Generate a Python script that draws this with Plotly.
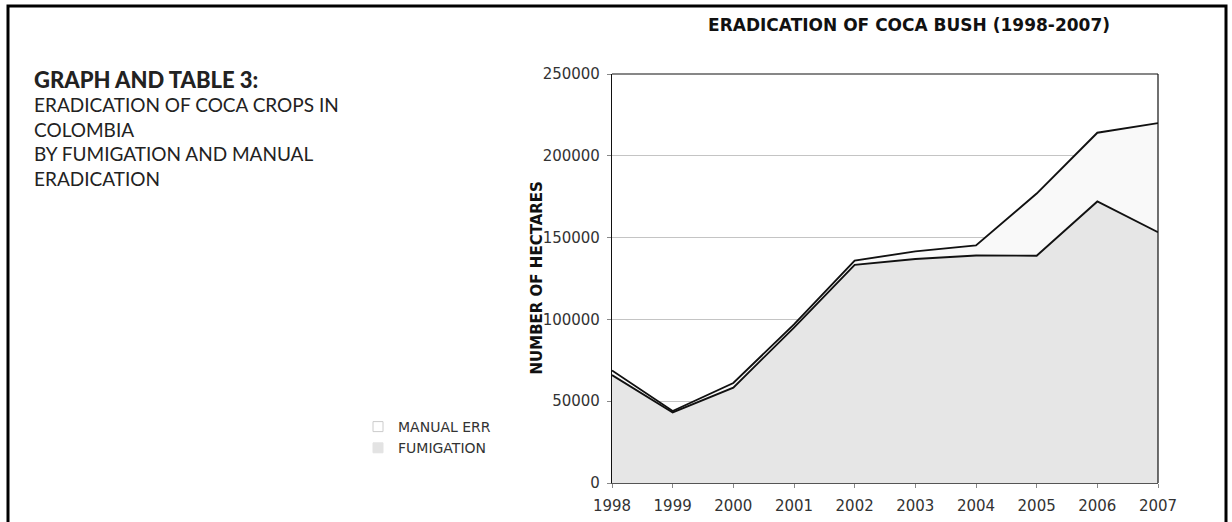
import plotly.graph_objects as go

years = [1998, 1999, 2000, 2001, 2002, 2003, 2004, 2005, 2006, 2007]
fumigation = [66000, 43100, 58300, 95000, 133300, 136900, 139100, 138900, 172100, 153300]
manual_err = [2800, 900, 2800, 2000, 2600, 4700, 6100, 38000, 42000, 66700]

y_ticks = [0, 50000, 100000, 150000, 200000, 250000]

W, H = 1232, 522
L, R, T, B = 612, 1158, 74, 483
pw, ph = R - L, B - T

def px(x):
    return (x - L) / pw

def py(y):
    return (B - y) / ph

fig = go.Figure()
fig.add_trace(go.Scatter(
    x=years, y=fumigation, name="FUMIGATION", stackgroup="one",
    mode="lines", line=dict(color="#111111", width=1.9),
    fillcolor="#e6e6e6", showlegend=False, hoverinfo="x+y"))
fig.add_trace(go.Scatter(
    x=years, y=manual_err, name="MANUAL ERR", stackgroup="one",
    mode="lines", line=dict(color="#111111", width=1.9),
    fillcolor="#f9f9f9", showlegend=False, hoverinfo="x+y"))

# legend entries
fig.add_trace(go.Scatter(
    x=[None], y=[None], mode="markers", name="MANUAL ERR",
    marker=dict(symbol="square", size=10, color="#ffffff",
                line=dict(color="#cccccc", width=1))))
fig.add_trace(go.Scatter(
    x=[None], y=[None], mode="markers", name="FUMIGATION",
    marker=dict(symbol="square", size=10, color="#e3e3e3",
                line=dict(color="#e3e3e3", width=1))))

fig.update_layout(
    width=W, height=H,
    margin=dict(l=L, r=W - R, t=T, b=H - B, autoexpand=False),
    paper_bgcolor="white", plot_bgcolor="white",
    font=dict(family="DejaVu Sans", size=15, color="#333333"),
    title=dict(text="<b>ERADICATION OF COCA BUSH (1998-2007)</b>",
               xref="container", yref="container",
               x=909 / W, y=1 - 25 / H,
               xanchor="center", yanchor="middle",
               font=dict(family="DejaVu Sans", size=17, color="#111111")),
    legend=dict(xref="container", yref="container",
                x=358 / W, y=1 - 411 / H,
                xanchor="left", yanchor="top", traceorder="normal",
                font=dict(family="DejaVu Sans", size=14, color="#333333"),
                bgcolor="rgba(0,0,0,0)", itemwidth=30, tracegroupgap=0),
    showlegend=True,
)

fig.update_xaxes(
    range=[1998, 2007], tickmode="array", tickvals=years,
    ticktext=[str(y) for y in years], automargin=False,
    showgrid=False, zeroline=False,
    showline=True, linecolor="#555555", linewidth=1, mirror=False,
    ticks="outside", ticklen=4, tickcolor="#888888", ticklabelstandoff=5,
    tickfont=dict(family="DejaVu Sans", size=15, color="#333333"),
)
fig.update_yaxes(
    range=[0, 250000], tickmode="array", tickvals=y_ticks,
    ticktext=[str(v) for v in y_ticks], automargin=False,
    showgrid=True, gridcolor="#c4c4c4", gridwidth=1, zeroline=False,
    showline=True, linecolor="#111111", linewidth=1.2, mirror=False,
    ticks="outside", ticklen=4, tickcolor="#888888", ticklabelstandoff=4,
    tickfont=dict(family="DejaVu Sans", size=15, color="#333333"),
)

# plot frame (top and right black)
fig.add_shape(type="line", xref="paper", yref="paper", x0=0, x1=1, y0=1, y1=1,
              line=dict(color="#111111", width=1.2), layer="above")
fig.add_shape(type="line", xref="paper", yref="paper", x0=1, x1=1, y0=0, y1=1,
              line=dict(color="#111111", width=1.2), layer="above")

# page border
fig.add_shape(type="rect", xref="paper", yref="paper",
              x0=px(8), x1=px(1226), y0=py(6), y1=py(545),
              line=dict(color="#000000", width=3), layer="above")

# y axis title
fig.add_annotation(text="<b>NUMBER OF HECTARES</b>", xref="paper", yref="paper",
                   x=px(536), y=0.5, textangle=-90, showarrow=False,
                   xanchor="center", yanchor="middle",
                   font=dict(family="DejaVu Sans", size=15, color="#111111"))

# left text block
fig.add_annotation(text="GRAPH AND TABLE 3:", xref="paper", yref="paper",
                   x=px(32), y=py(79), showarrow=False,
                   xanchor="left", yanchor="middle",
                   font=dict(family="Lato", size=22, weight=900, color="#222222"))
body_lines = ["ERADICATION OF COCA CROPS IN", "COLOMBIA",
              "BY FUMIGATION AND MANUAL", "ERADICATION"]
fig.add_annotation(text="<br>".join(body_lines), xref="paper", yref="paper",
                   x=px(32), y=py(141.5), showarrow=False, align="left",
                   xanchor="left", yanchor="middle",
                   font=dict(family="Lato", size=19, color="#222222"))

fig.write_html("out.html",
               config={"displayModeBar": False},
               post_script="document.body.style.margin='0px';"
                           "document.documentElement.style.overflow='hidden';")
